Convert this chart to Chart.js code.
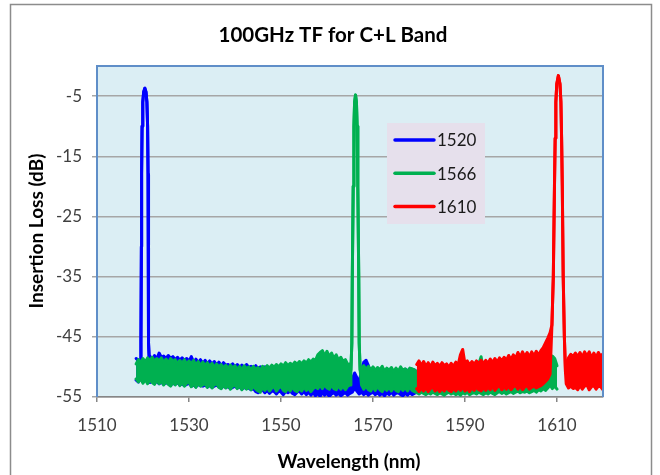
<!DOCTYPE html>
<html>
<head>
<meta charset="utf-8">
<title>100GHz TF for C+L Band</title>
<script src="https://cdn.jsdelivr.net/npm/chart.js@4.4.1/dist/chart.umd.min.js"></script>
<style>
  html, body { margin: 0; padding: 0; background: #fff; }
  #wrap { width: 660px; height: 475px; }
</style>
</head>
<body>
<div id="wrap"><canvas id="tfChart" width="660" height="475"></canvas></div>
<script>
// ── Data ──────────────────────────────────────────────────────────────────────
const STEP = 0.5;                       // nm between floor samples
const xTicks = [1510, 1530, 1550, 1570, 1590, 1610];
const yTicks = [-55, -45, -35, -25, -15, -5];
const channels = ['1520', '1566', '1610'];
const colors = ['#0000ff', '#00b050', '#ff0000'];

// 1520 channel: noise floor envelope (upper / lower) from 1518.5 nm
const start1520 = 1518.5;
const hi1520 = [
  -48.6, -48.9, -49, -49, -49, -49, -48.2, -48.8, -48.1, -48.7,
  -47.7, -48.4, -48.2, -48.6, -48.1, -48.6, -48.3, -48.8, -48.4, -48.9,
  -48.5, -48.9, -48.6, -49.1, -48.3, -49.2, -48.7, -49.3, -48.8, -49.4,
  -48.9, -49.5, -49.0, -49.6, -49.1, -49.7, -49.2, -49.8, -49.3, -49.7,
  -49.6, -49.9, -49.5, -50.0, -49.6, -50.1, -49.7, -50.2, -49.6, -50.1,
  -49.9, -50.2, -49.8, -50.3, -50.0, -50.4, -50.0, -50.5, -50.2, -50.6,
  -50.6, -50.8, -50.5, -50.9, -50.7, -51.0, -50.8, -51.1, -50.9, -51.2,
  -51.4, -51.6, -51.3, -51.8, -52.0, -51.7, -52.2, -52.5, -52.9, -53.2,
  -53.5, -51.5, -50.0, -52.8, -53.4, -53.7, -53.3, -53.6, -53.4, -53.5,
  -53.2, -53.4, -53.1, -52.8, -52.0, -51.0, -51.8, -52.5, -50.5, -49.2,
  -48.9, -49.8, -51.2, -51.0, -51.3, -50.9, -51.2, -51.0, -50.8, -51.1,
  -50.9, -50.7, -51.0, -50.6, -50.8, -50.5, -50.7, -50.4, -50.6, -50.5,
  -50.7, -50.5, -50.8
];
const lo1520 = [
  -52.2, -52.5, -52, -52, -52, -52, -52.6, -52.3, -52.7, -52.4,
  -52.8, -52.5, -52.9, -52.6, -52.8, -53.0, -52.7, -52.9, -52.6, -53.0,
  -52.8, -53.1, -52.9, -52.7, -53.2, -53.0, -53.3, -52.9, -53.1, -53.2,
  -53.0, -53.3, -53.1, -53.4, -53.2, -53.0, -53.3, -53.5, -53.2, -53.4,
  -53.3, -53.6, -53.4, -53.2, -53.5, -53.3, -53.7, -53.4, -53.6, -53.5,
  -53.8, -53.6, -54.1, -54.3, -54.0, -53.8, -54.3, -53.9, -54.4, -54.0,
  -54.1, -54.5, -54.0, -54.2, -54.6, -54.1, -54.3, -54.0, -54.4, -54.6,
  -54.2, -54.0, -54.5, -54.1, -54.6, -54.2, -54.7, -54.3, -54.8, -54.4,
  -54.9, -54.3, -54.7, -54.4, -54.9, -54.5, -54.3, -54.7, -54.4, -54.8,
  -54.5, -54.3, -54.7, -54.4, -54.2, -53.5, -54.0, -54.5, -54.2, -54.6,
  -54.3, -54.7, -54.4, -54.2, -54.6, -54.3, -54.7, -54.4, -54.8, -54.3,
  -54.6, -54.2, -54.7, -54.4, -54.3, -54.6, -54.8, -54.4, -54.7, -54.3,
  -54.6, -54.4, -54.2
];
const peak1520X = [1519.4, 1519.55, 1519.65, 1519.7, 1519.8, 1519.95, 1520.15, 1520.4,
                   1520.65, 1520.85, 1521.0, 1521.1, 1521.15, 1521.25, 1521.4];
const peak1520Y = [-49.5, -46, -30, -18, -10, -6, -4.3, -3.7, -4.3, -6, -10, -18, -30, -46, -49.5];

// 1566 channel
const start1566 = 1518.5;
const hi1566 = [
  -49.5, -48.8, -49.3, -48.6, -49.2, -48.5, -49.0, -48.4, -49.1, -48.6,
  -49.0, -48.5, -49.3, -48.7, -49.4, -48.6, -49.1, -48.8, -49.5, -48.9,
  -49.4, -48.8, -49.6, -49.0, -49.5, -48.9, -49.7, -49.1, -49.8, -49.2,
  -49.8, -49.3, -49.9, -49.4, -50.1, -49.5, -50.0, -49.6, -50.2, -49.7,
  -50.3, -49.7, -50.2, -49.8, -50.4, -49.9, -50.5, -49.8, -50.3, -50.0,
  -50.5, -49.9, -50.4, -50.1, -50.6, -49.9, -50.3, -49.8, -50.2, -49.7,
  -50.1, -49.6, -50.0, -49.5, -49.9, -49.3, -49.8, -49.4, -49.7, -49.2,
  -49.6, -49.1, -49.5, -49.0, -49.4, -48.8, -49.2, -48.7, -48.9, -48.0,
  -47.6, -47.3, -48.2, -47.4, -48.3, -47.7, -48.6, -48.0, -48.9, -48.4,
  -49.1, -48.8, -49.6, -49.5, -50.0, -50.0, -50.0, -50.0, -50.3, -49.8,
  -50.4, -49.9, -50.5, -50.0, -50.6, -50.1, -50.5, -49.9, -50.7, -50.2,
  -50.6, -50.1, -50.8, -50.2, -50.7, -50.0, -50.6, -50.3, -50.8, -50.2,
  -50.3, -50.5, -50.8, -51.0, -50.7, -51.1, -50.9, -51.2, -50.8, -51.0,
  -51.2, -50.9, -51.1, -51.3, -51.0, -51.2, -50.9, -51.1, -51.3, -51.0,
  -51.2, -50.9, -51.1, -51.0, -51.3, -50.8, -51.0, -51.2, -50.9, -49.5,
  -48.3, -50.6, -51.0, -51.2, -50.9, -51.1, -51.3, -51.0, -51.2, -50.9,
  -51.1, -51.3, -51.0, -51.2, -50.9, -51.1, -51.0, -51.2, -50.8, -51.0,
  -51.2, -50.9, -51.1, -51.0, -50.8, -51.0, -50.7, -50.4, -50.0, -49.4,
  -48.7, -48.2, -48.6, -49.8
];
const lo1566 = [
  -52.0, -52.5, -52.0, -52.7, -52.1, -52.8, -52.2, -52.6, -52.9, -52.2,
  -52.8, -52.3, -53.0, -52.4, -52.9, -53.2, -52.5, -53.0, -52.4, -53.1,
  -52.6, -53.2, -52.7, -52.5, -53.3, -52.8, -53.4, -52.7, -53.2, -53.0,
  -52.8, -53.4, -52.9, -53.5, -53.0, -52.8, -53.4, -53.6, -53.0, -53.5,
  -53.0, -53.7, -53.2, -53.0, -53.6, -53.1, -53.8, -53.2, -53.7, -53.3,
  -53.8, -53.2, -53.7, -54.0, -54.2, -53.4, -53.9, -53.3, -54.0, -53.5,
  -53.3, -54.0, -53.5, -53.2, -53.9, -54.1, -53.5, -54.0, -53.3, -53.9,
  -54.1, -53.5, -54.0, -53.3, -53.9, -53.5, -54.1, -53.6, -53.3, -53.6,
  -53.0, -53.6, -52.9, -53.5, -53.7, -53.0, -53.6, -53.8, -53.1, -53.7,
  -53.2, -53.8, -53.2, -53.0, -53, -53, -53, -53, -53.0, -53.7,
  -53.2, -53.8, -54.0, -53.3, -53.9, -53.2, -53.8, -54.1, -53.4, -53.9,
  -53.3, -54.0, -53.4, -53.9, -54.1, -53.3, -53.9, -53.4, -54.0, -53.3,
  -53.9, -54.1, -54.3, -54.5, -54.2, -54.4, -54.6, -54.3, -54.5, -54.2,
  -54.4, -54.6, -54.3, -54.5, -54.7, -54.4, -54.2, -54.5, -54.3, -54.6,
  -54.4, -54.7, -54.3, -54.5, -54.2, -54.6, -54.4, -54.3, -54.5, -54.2,
  -54.4, -54.6, -54.3, -54.5, -54.2, -54.4, -54.6, -54.3, -54.1, -54.4,
  -54.2, -54.5, -54.3, -54.1, -54.4, -54.2, -54.0, -54.3, -54.1, -54.2,
  -54.0, -54.3, -54.1, -53.9, -54.2, -53.8, -54.0, -53.6, -53.9, -53.5,
  -53.0, -53.6, -53.2, -53.7
];
const peak1566X = [1565.2, 1565.4, 1565.5, 1565.7, 1565.85, 1566.0, 1566.2,
                   1566.4, 1566.55, 1566.7, 1566.9, 1567.0, 1567.2];
const peak1566Y = [-50.5, -46, -35, -20, -10, -6, -4.8, -6, -10, -20, -35, -46, -50.5];

// 1610 channel
const start1610 = 1579.5;
const hi1610 = [
  -49.6, -49.0, -49.8, -49.1, -49.9, -49.3, -50.0, -49.2, -49.8, -49.4,
  -49.9, -49.3, -49.8, -49.5, -50.1, -49.4, -49.9, -49.2, -49.7, -48.0,
  -47.1, -49.5, -49.0, -49.7, -49.1, -49.6, -49.0, -49.5, -48.9, -49.4,
  -48.9, -49.4, -48.7, -49.3, -48.6, -49.2, -48.5, -49.0, -48.4, -48.9,
  -48.1, -48.8, -48.0, -48.6, -47.6, -48.4, -47.5, -48.3, -47.6, -48.4,
  -47.5, -48.2, -47.4, -48.1, -47.3, -46.8, -46.0, -45.2, -44.3, -43.0,
  -40, -30, -20, -20, -40, -50.5, -48.5, -47.9, -48.3, -47.7,
  -48.3, -47.6, -48.4, -47.5, -48.2, -47.5, -48.5, -47.7, -48.4, -47.6,
  -48.2, -47.8
];
const lo1610 = [
  -53.6, -54.1, -53.5, -54.0, -53.4, -54.1, -53.6, -53.3, -54.0, -53.5,
  -54.1, -53.5, -54.0, -53.4, -53.9, -54.1, -53.5, -54.0, -53.4, -53.9,
  -53.3, -54.0, -53.5, -54.1, -53.4, -53.9, -53.3, -53.8, -54.0, -53.4,
  -53.9, -53.3, -53.8, -53.2, -53.9, -53.4, -53.1, -53.8, -53.3, -53.7,
  -53.2, -53.8, -53.3, -53.1, -53.7, -53.2, -53.8, -53.3, -53.1, -53.7,
  -53.4, -53.2, -53.5, -53.3, -53.1, -52.8, -52.4, -52.0, -51.2, -45,
  -45, -45, -45, -45, -45, -52.8, -53.5, -53.2, -53.6, -53.4,
  -53.8, -53.1, -53.7, -53.2, -53.0, -53.8, -53.3, -53.1, -53.7, -53.2,
  -53.3, -53.8
];
const peak1610X = [1608.9, 1609.2, 1609.45, 1609.6, 1609.75, 1609.95, 1610.3,
                   1610.65, 1610.85, 1611.0, 1611.15, 1611.35, 1611.6, 1611.85];
const peak1610Y = [-43, -35, -20, -12, -6, -3, -1.6, -3, -6, -12, -20, -35, -45, -51];

// ── Build upper / lower traces of one channel ─────────────────────────────────
function buildBand(start, hi, lo, peakX, peakY) {
  const a = peakX[0], b = peakX[peakX.length - 1];
  const top = [], bottom = [];
  hi.forEach((v, i) => {
    const x = +(start + i * STEP).toFixed(2);
    if (x >= a && x <= b) return;          // the peak replaces the floor here
    top.push({ x, y: v });
    bottom.push({ x, y: lo[i] });
  });
  peakX.forEach((x, i) => {
    top.push({ x, y: peakY[i] });
    bottom.push({ x, y: peakY[i] });
  });
  top.sort((p, q) => p.x - q.x);
  bottom.sort((p, q) => p.x - q.x);
  return { top, bottom };
}

const bands = [
  buildBand(start1520, hi1520, lo1520, peak1520X, peak1520Y),
  buildBand(start1566, hi1566, lo1566, peak1566X, peak1566Y),
  buildBand(start1610, hi1610, lo1610, peak1610X, peak1610Y)
];

// red on top, then green, then blue (first dataset is drawn last)
const datasets = [];
[2, 1, 0].forEach(i => {
  const line = {
    borderColor: colors[i],
    backgroundColor: colors[i],
    borderWidth: 3,
    pointRadius: 0,
    tension: 0,
    borderJoinStyle: 'round',
    borderCapStyle: 'round'
  };
  datasets.push({ ...line, label: channels[i], data: bands[i].top, fill: '+1' });
  datasets.push({ ...line, label: channels[i] + ' lo', data: bands[i].bottom, fill: false });
});

// ── Excel-like frame, legend and titles ───────────────────────────────────────
const FONT = 'Lato, "Open Sans", sans-serif';

const excelLook = {
  id: 'excelLook',
  beforeDraw(chart) {
    const { ctx, chartArea: a } = chart;
    ctx.save();
    ctx.fillStyle = '#ffffff';
    ctx.fillRect(0, 0, chart.width, chart.height);
    ctx.strokeStyle = '#8c8c8c';
    ctx.lineWidth = 1.5;
    ctx.strokeRect(10.5, 4.5, 641, 520);
    ctx.fillStyle = '#dbeef4';
    ctx.fillRect(a.left, a.top, a.right - a.left, a.bottom - a.top);
    ctx.restore();
  },
  afterDraw(chart) {
    const { ctx, chartArea: a } = chart;
    ctx.save();

    // plot area border (top, left, right)
    ctx.strokeStyle = '#5f8ec8';
    ctx.lineWidth = 2;
    ctx.beginPath();
    ctx.moveTo(a.left, a.bottom);
    ctx.lineTo(a.left, a.top);
    ctx.lineTo(a.right, a.top);
    ctx.lineTo(a.right, a.bottom);
    ctx.stroke();

    // legend box
    ctx.fillStyle = '#e6e0ec';
    ctx.fillRect(387, 123, 98, 101);
    ctx.font = '17px ' + FONT;
    ctx.textBaseline = 'middle';
    ctx.textAlign = 'left';
    channels.forEach((name, i) => {
      const y = 140 + i * 33.3;
      ctx.strokeStyle = colors[i];
      ctx.lineWidth = 3.5;
      ctx.lineCap = 'round';
      ctx.beginPath();
      ctx.moveTo(395, y);
      ctx.lineTo(434, y);
      ctx.stroke();
      ctx.fillStyle = '#1a1a1a';
      ctx.fillText(name, 437, y + 1);
    });

    // titles
    ctx.fillStyle = '#000';
    ctx.textAlign = 'center';
    ctx.font = 'bold 20.5px ' + FONT;
    ctx.fillText('100GHz TF for C+L Band', 333, 35);
    ctx.font = 'bold 19px ' + FONT;
    ctx.fillText('Wavelength (nm)', 349, 462);
    ctx.translate(37, 231);
    ctx.rotate(-Math.PI / 2);
    ctx.fillText('Insertion Loss (dB)', 0, 0);
    ctx.restore();
  }
};

new Chart(document.getElementById('tfChart'), {
  type: 'line',
  data: { datasets },
  options: {
    responsive: false,
    animation: false,
    events: [],
    layout: { padding: { left: 0, top: 66, right: 57, bottom: 0 } },
    plugins: {
      legend: { display: false },
      title: { display: false },
      tooltip: { enabled: false }
    },
    scales: {
      x: {
        type: 'linear',
        min: 1510,
        max: 1620,
        afterBuildTicks: s => { s.ticks = xTicks.map(v => ({ value: v })); },
        afterFit: s => { s.height = 78; },
        grid: { drawOnChartArea: false, drawTicks: true, tickLength: 5, color: '#868686', lineWidth: 1.5 },
        border: { display: true, color: '#868686', width: 1.5 },
        ticks: {
          autoSkip: false, maxRotation: 0, padding: 13, color: '#404040',
          font: { family: FONT, size: 17 },
          callback: v => String(v)
        }
      },
      y: {
        min: -55,
        max: 0,
        afterBuildTicks: s => { s.ticks = yTicks.map(v => ({ value: v })); },
        afterFit: s => { s.width = 97; },
        grid: { color: '#a6a6a6', lineWidth: 1.5, tickLength: 5 },
        border: { display: false },
        ticks: { padding: 10, color: '#404040', font: { family: FONT, size: 17 }, callback: v => String(v) }
      }
    }
  },
  plugins: [excelLook]
});
</script>
</body>
</html>
